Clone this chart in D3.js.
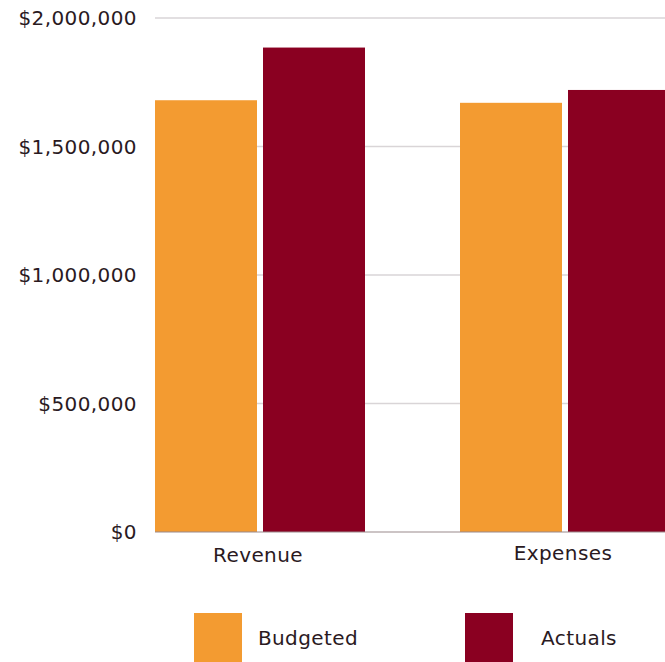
<!DOCTYPE html>
<html>
<head>
<meta charset="utf-8">
<script src="https://cdn.jsdelivr.net/npm/d3@7"></script>
<style>
  html, body { margin: 0; padding: 0; background: #fff; overflow: hidden; }
  text { font-family: "DejaVu Sans", sans-serif; fill: #2a1a1f; letter-spacing: 0.4px; }
</style>
</head>
<body>
<svg id="chart"></svg>
<script>
// data
const categories = ['Revenue', 'Expenses']
const seriesNames = ['Budgeted', 'Actuals']
const budgeted = [1680000, 1670000]
const actuals = [1885000, 1720000]
const yTicks = [0, 500000, 1000000, 1500000, 2000000]
const colors = ['#f39b31', '#8a0021']

const w = 665
const h = 662

const svg = d3.select('#chart').attr('width', w).attr('height', h)

// scales
const x0 = d3.scaleBand().domain(categories).range([155, 670])
    .paddingInner(95 / 305).paddingOuter(0)
const x1 = d3.scaleBand().domain(seriesNames).range([0, x0.bandwidth()])
    .paddingInner(6 / 108).paddingOuter(0)
const y = d3.scaleLinear().domain([0, 2000000]).range([532, 18])
const color = d3.scaleOrdinal().domain(seriesNames).range(colors)

const fmt = v => '$' + d3.format(',')(v)

// gridlines
svg.append('g').selectAll('line').data(yTicks.slice(1)).join('line')
    .attr('x1', 155).attr('x2', w)
    .attr('y1', d => y(d)).attr('y2', d => y(d))
    .attr('stroke', '#d9d5d7').attr('stroke-width', 1.5)

// y labels
svg.append('g').selectAll('text').data(yTicks).join('text')
    .attr('x', 137).attr('y', d => y(d)).attr('dy', '0.35em')
    .attr('text-anchor', 'end').style('font-size', '20px')
    .text(fmt)

// bars
const rows = categories.map((c, i) => ({ cat: c, values: [budgeted[i], actuals[i]] }))
svg.append('g').selectAll('g').data(rows).join('g')
    .attr('transform', d => `translate(${x0(d.cat)},0)`)
    .selectAll('rect').data(d => d.values.map((v, j) => ({ key: seriesNames[j], value: v })))
    .join('rect')
    .attr('x', d => x1(d.key)).attr('width', x1.bandwidth())
    .attr('y', d => y(d.value)).attr('height', d => y(0) - y(d.value))
    .attr('fill', d => color(d.key))

// baseline
svg.append('line').attr('x1', 155).attr('x2', w)
    .attr('y1', y(0)).attr('y2', y(0))
    .attr('stroke', '#9a8a8c').attr('stroke-width', 1.2)

// category labels
svg.append('g').selectAll('text').data(categories).join('text')
    .attr('x', d => x0(d) + x0.bandwidth() / 2 - 2)
    .attr('y', (d, i) => i === 0 ? 555 : 553).attr('dy', '0.35em')
    .attr('text-anchor', 'middle').style('font-size', '20px')
    .text(d => d)

// legend
const legend = svg.append('g').selectAll('g').data(seriesNames).join('g')
    .attr('transform', (d, i) => `translate(${194 + i * 271},613)`)
legend.append('rect').attr('width', 48).attr('height', 60).attr('fill', d => color(d))
legend.append('text').attr('x', 114).attr('y', 25).attr('dy', '0.35em')
    .attr('text-anchor', 'middle').style('font-size', '20px').text(d => d)
</script>
</body>
</html>
